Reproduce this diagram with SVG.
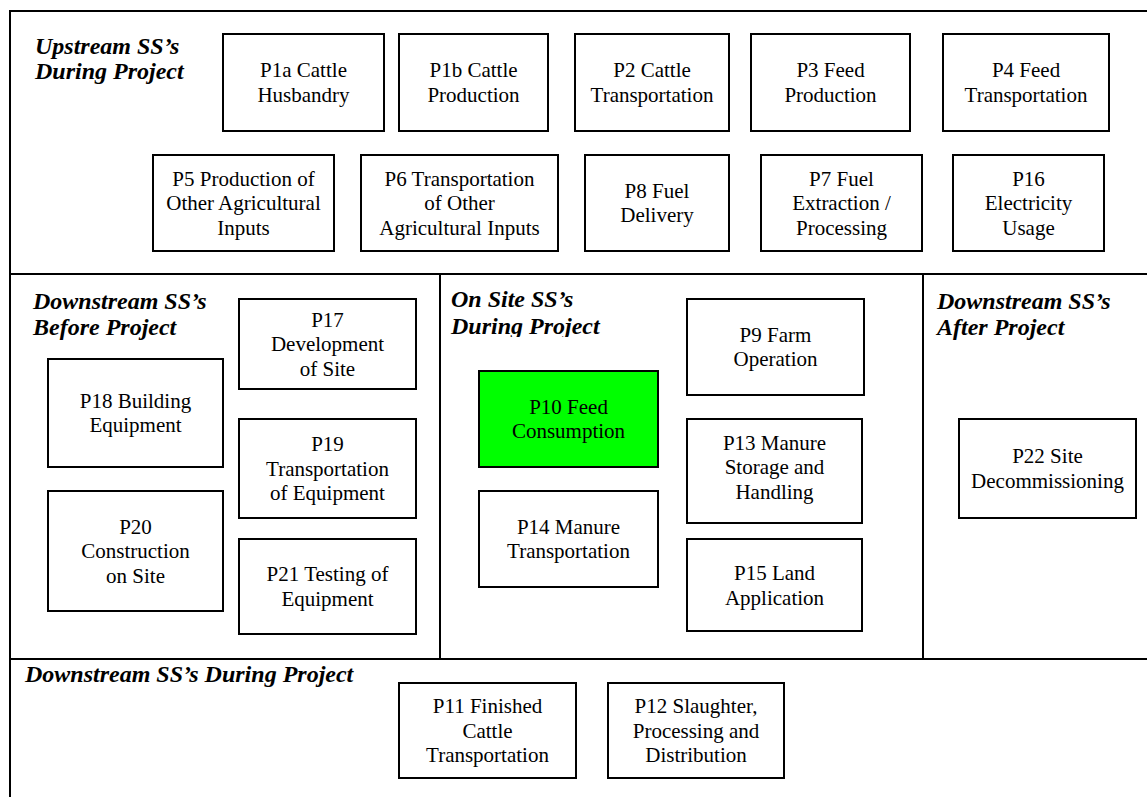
<svg xmlns="http://www.w3.org/2000/svg" width="1147" height="797" viewBox="0 0 1147 797">
<style>
.frame{fill:none;stroke:#000;stroke-width:2}
.box{fill:#fff;stroke:#000;stroke-width:2}
.green{fill:#00ff00;stroke:#000;stroke-width:2}
.t{font-family:"Liberation Serif","Times New Roman",serif;font-size:21px;fill:#000;text-anchor:middle}
.h{font-family:"Liberation Serif","Times New Roman",serif;font-size:24px;font-weight:bold;font-style:italic;fill:#000}
</style>
<defs>
<clipPath id="clipOnSite"><rect x="440" y="276" width="480" height="61"/></clipPath>
</defs>
<rect width="1147" height="797" fill="#fff"/>
<g id="frame">
<path class="frame" d="M10,797 V11 H1147 M10,274 H1147 M440,274 V659 M923,274 V659 M10,659 H1147"/>
</g>
<g id="headings">
<text class="h" x="35" y="54">Upstream SS’s</text>
<text class="h" x="35" y="79">During Project</text>
<text class="h" x="33" y="309">Downstream SS’s</text>
<text class="h" x="33" y="335">Before Project</text>
<g clip-path="url(#clipOnSite)">
<text class="h" x="451" y="307">On Site SS’s</text>
<text class="h" x="451" y="334">During Project</text>
</g>
<text class="h" x="937" y="309">Downstream SS’s</text>
<text class="h" x="937" y="335">After Project</text>
<text class="h" x="25" y="682">Downstream SS’s During Project</text>
</g>
<g id="connectors"></g>
<g id="P1a"><rect class="box" x="223" y="34" width="161" height="97"/><text class="t" x="303.5" y="77">P1a Cattle</text><text class="t" x="303.5" y="101.5">Husbandry</text></g>
<g id="P1b"><rect class="box" x="399" y="34" width="149" height="97"/><text class="t" x="473.5" y="77">P1b Cattle</text><text class="t" x="473.5" y="101.5">Production</text></g>
<g id="P2"><rect class="box" x="575" y="34" width="154" height="97"/><text class="t" x="652" y="77">P2 Cattle</text><text class="t" x="652" y="101.5">Transportation</text></g>
<g id="P3"><rect class="box" x="751" y="34" width="159" height="97"/><text class="t" x="830.5" y="77">P3 Feed</text><text class="t" x="830.5" y="101.5">Production</text></g>
<g id="P4"><rect class="box" x="943" y="34" width="166" height="97"/><text class="t" x="1026" y="77">P4 Feed</text><text class="t" x="1026" y="101.5">Transportation</text></g>
<g id="P5"><rect class="box" x="153" y="155" width="181" height="96"/><text class="t" x="243.5" y="185.5">P5 Production of</text><text class="t" x="243.5" y="210">Other Agricultural</text><text class="t" x="243.5" y="234.5">Inputs</text></g>
<g id="P6"><rect class="box" x="361" y="155" width="197" height="96"/><text class="t" x="459.5" y="185.5">P6 Transportation</text><text class="t" x="459.5" y="210">of Other</text><text class="t" x="459.5" y="234.5">Agricultural Inputs</text></g>
<g id="P8"><rect class="box" x="585" y="155" width="144" height="96"/><text class="t" x="657" y="197.75">P8 Fuel</text><text class="t" x="657" y="222.25">Delivery</text></g>
<g id="P7"><rect class="box" x="761" y="155" width="161" height="96"/><text class="t" x="841.5" y="185.5">P7 Fuel</text><text class="t" x="841.5" y="210">Extraction /</text><text class="t" x="841.5" y="234.5">Processing</text></g>
<g id="P16"><rect class="box" x="953" y="155" width="151" height="96"/><text class="t" x="1028.5" y="185.5">P16</text><text class="t" x="1028.5" y="210">Electricity</text><text class="t" x="1028.5" y="234.5">Usage</text></g>
<g id="P17"><rect class="box" x="239" y="299" width="177" height="90"/><text class="t" x="327.5" y="326.5">P17</text><text class="t" x="327.5" y="351">Development</text><text class="t" x="327.5" y="375.5">of Site</text></g>
<g id="P18"><rect class="box" x="48" y="359" width="175" height="108"/><text class="t" x="135.5" y="407.75">P18 Building</text><text class="t" x="135.5" y="432.25">Equipment</text></g>
<g id="P19"><rect class="box" x="239" y="419" width="177" height="99"/><text class="t" x="327.5" y="451">P19</text><text class="t" x="327.5" y="475.5">Transportation</text><text class="t" x="327.5" y="500">of Equipment</text></g>
<g id="P20"><rect class="box" x="48" y="491" width="175" height="120"/><text class="t" x="135.5" y="533.5">P20</text><text class="t" x="135.5" y="558">Construction</text><text class="t" x="135.5" y="582.5">on Site</text></g>
<g id="P21"><rect class="box" x="239" y="539" width="177" height="95"/><text class="t" x="327.5" y="581">P21 Testing of</text><text class="t" x="327.5" y="605.5">Equipment</text></g>
<g id="P10"><rect class="green" x="479" y="371" width="179" height="96"/><text class="t" x="568.5" y="413.75">P10 Feed</text><text class="t" x="568.5" y="438.25">Consumption</text></g>
<g id="P14"><rect class="box" x="479" y="491" width="179" height="96"/><text class="t" x="568.5" y="533.75">P14 Manure</text><text class="t" x="568.5" y="558.25">Transportation</text></g>
<g id="P9"><rect class="box" x="687" y="299" width="177" height="96"/><text class="t" x="775.5" y="341.75">P9 Farm</text><text class="t" x="775.5" y="366.25">Operation</text></g>
<g id="P13"><rect class="box" x="687" y="419" width="175" height="104"/><text class="t" x="774.5" y="449.5">P13 Manure</text><text class="t" x="774.5" y="474">Storage and</text><text class="t" x="774.5" y="498.5">Handling</text></g>
<g id="P15"><rect class="box" x="687" y="539" width="175" height="92"/><text class="t" x="774.5" y="580">P15 Land</text><text class="t" x="774.5" y="604.5">Application</text></g>
<g id="P22"><rect class="box" x="959" y="419" width="177" height="99"/><text class="t" x="1047.5" y="463.25">P22 Site</text><text class="t" x="1047.5" y="487.75">Decommissioning</text></g>
<g id="P11"><rect class="box" x="399" y="683" width="177" height="95"/><text class="t" x="487.5" y="713">P11 Finished</text><text class="t" x="487.5" y="737.5">Cattle</text><text class="t" x="487.5" y="762">Transportation</text></g>
<g id="P12"><rect class="box" x="608" y="683" width="176" height="95"/><text class="t" x="696" y="713">P12 Slaughter,</text><text class="t" x="696" y="737.5">Processing and</text><text class="t" x="696" y="762">Distribution</text></g>
</svg>
